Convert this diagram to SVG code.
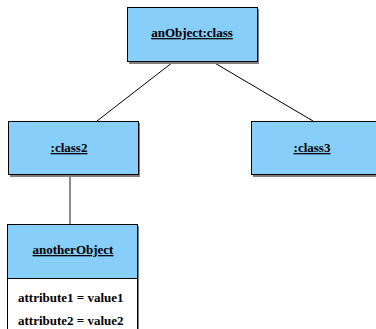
<svg xmlns="http://www.w3.org/2000/svg" width="376" height="329" viewBox="0 0 376 329">
<style>
.sh{fill:#808080;stroke:none}
.box{fill:#87CEFA;stroke:#000;stroke-width:1}
.cmp{fill:#fff;stroke:#000;stroke-width:1}
.t{font-family:"Liberation Serif",serif;font-weight:bold;font-size:13px;fill:#000;text-anchor:middle;text-decoration:underline}
.a{font-family:"Liberation Serif",serif;font-weight:bold;font-size:13px;fill:#000}
.c{stroke:#000;stroke-width:1;fill:none}
</style>
<g id="connectors">
<line class="c" x1="173" y1="62" x2="97" y2="121"/>
<line class="c" x1="213" y1="62" x2="313" y2="121"/>
<line x1="70" y1="175" x2="70" y2="224" stroke="#666" stroke-width="1.5"/>
</g>
<g id="anObject">
<rect class="sh" x="129" y="9" width="130" height="55"/>
<rect class="box" x="127.5" y="7.5" width="130" height="54"/>
<text class="t" x="192" y="37">anObject:class</text>
</g>
<g id="class2">
<rect class="sh" x="10" y="123" width="130" height="54"/>
<rect class="box" x="8.5" y="121.5" width="130" height="53"/>
<text class="t" x="69" y="152">:class2</text>
</g>
<g id="class3">
<rect class="sh" x="253" y="123" width="130" height="54"/>
<rect class="box" x="251.5" y="121.5" width="130" height="53"/>
<text class="t" x="312" y="152">:class3</text>
</g>
<g id="anotherObject">
<rect class="sh" x="9" y="226" width="130" height="110"/>
<rect class="box" x="7.5" y="224.5" width="130" height="54"/>
<rect class="cmp" x="7.5" y="278.5" width="130" height="60"/>
<text class="t" x="73" y="254">anotherObject</text>
<text class="a" x="18" y="302">attribute1 = value1</text>
<text class="a" x="18" y="325">attribute2 = value2</text>
</g>
</svg>
